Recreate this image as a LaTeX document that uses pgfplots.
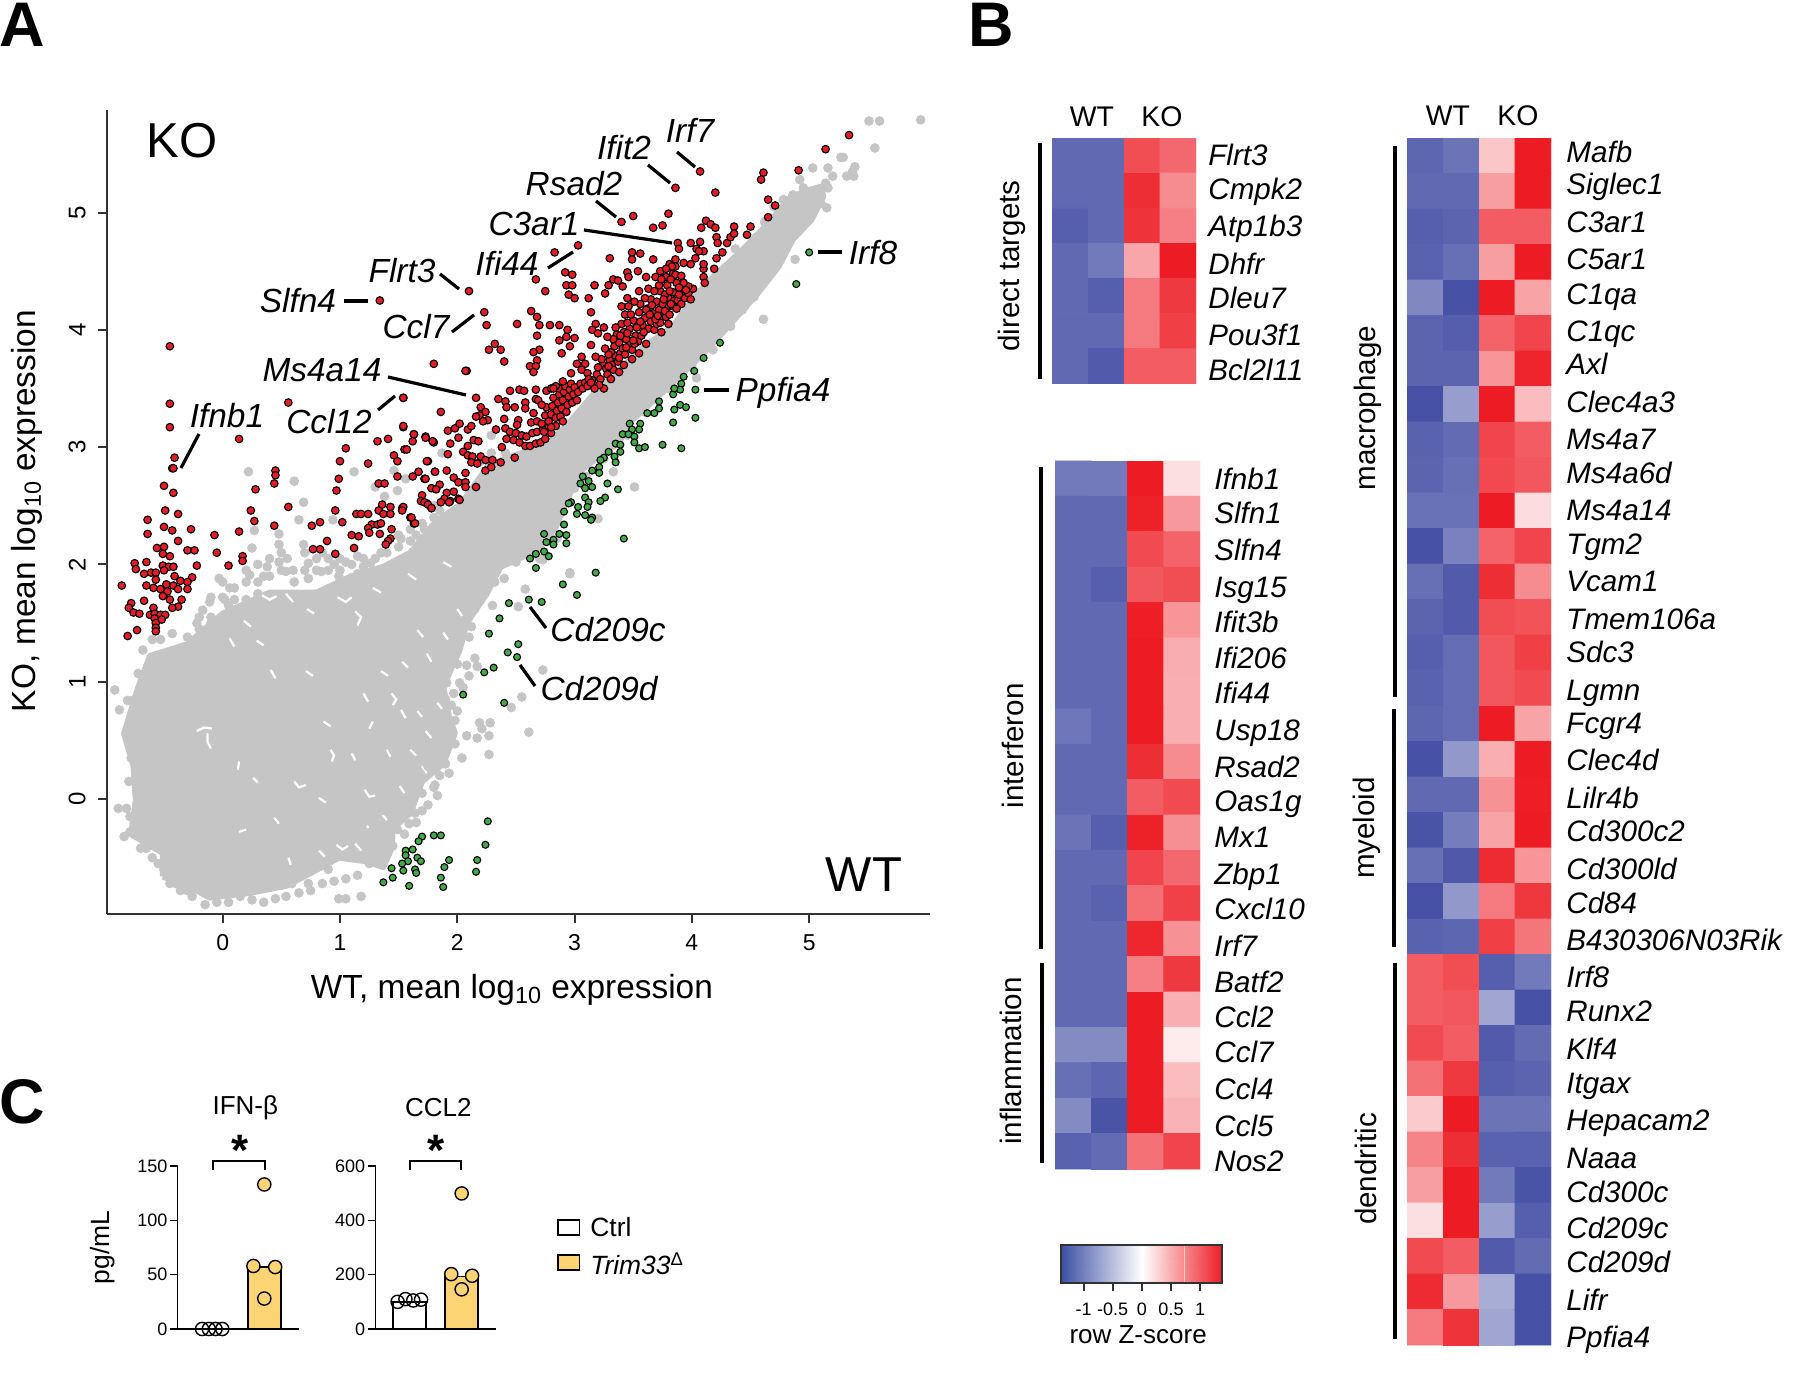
\documentclass[border=0pt]{standalone}
\usepackage{fontspec}
\setmainfont{Liberation Sans}
\usepackage{pgfplots}
\pgfplotsset{compat=1.18}

\definecolor{cloud}{RGB}{197,197,197}
\definecolor{upred}{RGB}{232,28,36}
\definecolor{downgreen}{RGB}{66,172,70}
\definecolor{barorange}{RGB}{253,212,116}
\definecolor{axisgray}{RGB}{50,50,50}
\pgfplotsset{colormap={zscore}{rgb255=(60,80,165) rgb255=(255,255,255) rgb255=(237,28,36)}}
\pgfplotsset{colormap={cells}{rgb255=(70,80,165) rgb255=(255,255,255) rgb255=(237,28,36)}}
\pgfplotsset{
  heat/.style={scale only axis,hide axis,enlargelimits=false,colormap name=cells,
    point meta min=-1.28,point meta max=1.28,y dir=reverse,xmin=-0.5,xmax=3.5},
  bars/.style={scale only axis,axis lines=left,axis line style={-,line width=0.75pt},
    width=60.4pt,height=81.5pt,clip=false,xtick=\empty,ymin=0,
    tick align=outside,major tick length=4pt,tick style={line width=0.75pt,black},
    /pgf/number format/assume math mode=true,
    yticklabel style={font=\fontsize{9}{10}\selectfont,inner sep=1pt}},
}
\newcommand{\gf}{\fontsize{14.8}{16}\selectfont}
\newcommand{\lf}{\fontsize{16.7}{18}\selectfont}

\begin{document}
\begin{tikzpicture}
\useasboundingbox (0,0) rectangle (900pt,688pt);

% panel A
\begin{axis}[name=scatter,at={(53.5pt,231pt)},anchor=south west,scale only axis,
  width=411.5pt,height=402pt,clip=false,
  xmin=-0.986,xmax=6.03,ymin=-0.98,ymax=5.874,
  axis lines=left,axis line style={-,line width=1pt,axisgray},
  xtick={0,1,2,3,4,5},ytick={0,1,2,3,4,5},
  tick align=outside,major tick length=4.5pt,tick style={line width=1pt,axisgray},
  /pgf/number format/assume math mode=true,
  xticklabel style={font=\fontsize{11.5}{12}\selectfont,inner sep=0pt,yshift=-5.5pt},
  yticklabel style={font=\fontsize{12}{12}\selectfont,rotate=90,anchor=south,inner sep=0pt,yshift=6pt},
  xlabel={WT, mean log\textsubscript{10} expression},
  ylabel={KO, mean log\textsubscript{10} expression},
  xlabel style={font=\lf,at={(rel axis cs:0.492,-0.094)},anchor=center},
  ylabel style={font=\lf,at={(rel axis cs:-0.0972,0.501)},anchor=center},
]
% main cloud outline
\addplot[fill=cloud,draw=cloud,line width=3pt,line join=round] coordinates {
(-0.51,-0.66) (-0.22,-0.78) (-0.11,-0.84) (0.23,-0.80) (0.54,-0.74) (0.77,-0.62) (0.99,-0.50)
(1.22,-0.53) (1.37,-0.58) (1.44,-0.42) (1.45,-0.25) (1.60,-0.12) (1.70,0.15) (1.88,0.30) (1.98,0.56)
(1.93,0.70) (1.88,0.96) (2.02,1.27) (2.08,1.50) (2.25,1.75) (2.37,1.98) (2.68,2.12) (2.84,2.32)
(2.94,2.55) (3.03,2.78) (3.13,2.86) (3.37,3.03) (3.49,3.23) (3.71,3.43) (3.89,3.60) (4.10,3.80)
(4.31,4.03) (4.56,4.31) (4.74,4.54) (4.86,4.77) (5.02,4.94) (5.12,5.14) (5.10,5.22) (4.96,5.18)
(4.83,5.12) (4.68,4.94) (4.53,4.78) (4.41,4.66) (4.19,4.46) (4.04,4.30) (3.83,4.02) (3.58,3.85)
(3.34,3.62) (3.16,3.45) (2.94,3.19) (2.76,3.02) (2.52,2.94) (2.27,2.85) (2.03,2.51) (1.82,2.37)
(1.60,2.10) (1.37,1.98) (1.10,1.90) (0.80,1.76) (0.40,1.76) (0.00,1.58) (-0.30,1.32) (-0.62,1.22)
(-0.72,0.95) (-0.77,0.79) (-0.84,0.56) (-0.76,0.28) (-0.74,-0.01) (-0.78,-0.30) (-0.51,-0.46) (-0.51,-0.66)};
% gray points on the edges of the cloud
\addplot[only marks,mark=*,mark size=2.2pt,mark options={draw=cloud,fill=cloud}] coordinates {
(-0.92,0.93) (-0.88,0.76) (-0.81,0.84) (-0.77,0.84) (-0.89,-0.08) (-0.82,-0.08) (-0.84,-0.32) (-0.79,-0.28)
(2.61,0.57) (2.27,0.38) (2.27,0.54) (2.28,0.65) (2.19,0.65) (2.21,0.60) (2.08,0.54) (2.17,0.52) (1.98,0.47)
(2.04,0.35) (1.91,0.67) (1.98,0.67) (1.83,0.03) (1.81,0.12) (1.93,0.22) (2.73,1.10) (2.55,0.87) (2.46,0.78)
(1.91,0.99) (2.02,0.99) (2.17,1.13) (2.08,1.14) (2.52,1.64) (2.58,1.79) (2.96,1.93) (1.64,-0.12) (1.59,-0.21)
(1.49,-0.26) (1.38,-0.26) (1.45,-0.09) (1.28,-0.26) (0.99,-0.85) (1.05,-0.85) (1.18,-0.83) (0.54,-0.83)
(0.73,-0.72) (0.59,-0.72) (-0.36,-0.78) (-0.26,-0.83) (-0.15,-0.90) (0.25,-0.86) (0.15,-0.83) (-0.45,-0.72)
(0.48,2.17) (0.25,2.14) (0.73,2.01) (0.69,2.17) (0.94,2.38) (0.65,2.38) (0.48,2.26) (0.27,2.29) (0.69,2.53)
(1.15,2.07) (0.22,2.79) (0.61,2.71) (1.12,2.79) (1.46,2.80) (1.87,2.95) (2.29,3.10) (1.38,2.58) (1.49,2.63)
(1.30,2.66) (1.56,2.73) (2.41,2.95) (2.29,2.95) (2.20,2.88) (5.95,5.79) (5.51,5.78) (5.60,5.78) (5.56,5.55)
(5.27,5.47) (5.29,5.47) (5.39,5.39) (5.32,5.31) (5.38,5.31) (5.37,5.35) (5.03,5.38) (5.16,5.38) (5.20,5.31) (5.14,5.25)
(4.88,4.60) (4.61,4.09) (4.18,3.83) (4.04,3.59) (3.51,2.66) (3.33,2.79) (2.96,1.92) (3.20,2.39) (2.73,2.04)
(4.95,5.21) (4.86,5.15) (4.78,5.11) (5.16,5.21) (5.10,5.08) (5.15,5.04) (4.95,5.01) (4.83,5.05) (4.69,4.89)
(4.55,4.79) (4.62,4.92) (4.37,4.69) (4.87,4.91) (5.06,5.11) (4.74,4.61) (4.65,4.45) (4.43,4.17) (4.33,4.03)
(4.53,4.28) (4.92,5.28) (5.00,5.18) (-0.17,1.61) (-0.11,1.68) (-0.03,1.88) (0.06,1.80) (0.12,1.61) (0.02,1.70)
(0.23,1.91) (0.38,1.98) (0.48,2.02) (0.54,1.94) (0.61,1.85) (0.73,1.88) (0.84,1.94) (0.99,1.90) (1.05,2.02)
(1.15,1.92) (1.26,2.01) (-0.68,1.27) (-0.60,1.36) (-0.43,1.41) (-0.30,1.38) (-0.22,1.50) (-0.72,1.07)
(-0.80,0.60) (-0.78,0.35) (-0.80,0.15) (-0.79,-0.15) (-0.65,-0.42) (-0.55,-0.55) (1.58,0.00) (1.70,0.05)
(1.75,0.28) (1.85,0.45) (1.80,0.68) (1.90,0.85) (2.00,1.15) (2.10,1.38) (2.15,1.62) (2.30,1.65) (2.40,1.88)
(1.25,-0.42) (1.10,-0.35) (1.20,-0.15) (1.35,-0.10) (0.90,-0.60) (0.60,-0.65) (1.35,2.10) (1.52,2.22) (1.65,2.25)
(1.85,2.46) (1.72,2.30) (0.40,1.90) (0.05,1.65) (-0.10,1.50) (0.85,2.10) (0.95,2.00)
(-0.53,1.36) (-0.20,1.45) (-0.20,1.55) (-0.10,1.55) (-0.10,1.72) (0.00,1.72) (0.00,1.85) (0.10,1.70) (0.10,1.80)
(0.20,1.95) (0.20,1.85) (0.20,1.70) (0.30,1.75) (0.30,1.85) (0.30,2.00) (0.35,1.90) (0.40,2.05) (0.50,1.95)
(0.50,2.10) (0.55,2.05) (0.60,1.95) (0.70,2.10) (0.70,1.95) (0.80,2.05) (0.80,1.95) (0.90,2.05) (0.90,1.95)
(1.00,2.05) (1.00,1.95) (1.10,2.00) (1.20,2.05) (1.20,1.98) (1.30,2.05) (1.40,2.10) (1.50,2.15) (1.50,2.25)
(1.60,2.20) (1.60,2.30) (1.70,2.35) (1.80,2.40) (1.80,2.50)
(1.95,0.80) (2.00,0.75) (1.97,0.90) (2.05,0.95) (2.10,1.05) (2.15,1.20) (2.12,1.47) (2.20,1.70) (2.32,1.85)
(1.90,0.30) (1.85,0.20) (1.80,0.10) (1.70,-0.10) (1.75,-0.05) (1.65,-0.20) (1.55,-0.30) (1.45,-0.40) (1.30,-0.45)
(1.35,-0.50) (1.25,-0.55) (1.15,-0.65) (1.05,-0.68) (0.95,-0.70) (0.85,-0.72) (0.75,-0.78) (0.65,-0.80) (0.35,-0.88)
(0.45,-0.85) (0.05,-0.88) (-0.05,-0.88) (-0.30,-0.78) (-0.40,-0.72) (-0.50,-0.60) (-0.60,-0.50) (-0.70,-0.42)
(3.00,2.65) (3.10,2.75) (3.25,2.90) (3.45,3.10) (3.60,3.30) (3.80,3.50) (4.00,3.70) (4.20,3.92) (4.45,4.20)
(4.60,4.40) (4.75,4.65) (4.90,4.85) (4.70,5.05) (2.85,2.22) (2.70,2.05) (2.50,2.02)};
% gaps in the cloud
\addplot[white,line width=1.1pt,unbounded coords=jump] coordinates {
(-.22,.58) (-.16,.61) (-.09,.60) (nan,nan) (-.13,.56) (-.13,.49) (-.10,.43) (nan,nan) (.14,.32) (.13,.25) (nan,nan)
(.26,.18) (.30,.14) (nan,nan) (.61,.15) (.65,.10) (.71,.12) (nan,nan) (.92,.42) (.95,.37) (.93,.32) (nan,nan)
(1.10,.39) (1.13,.33) (nan,nan) (1.28,.66) (1.25,.60) (nan,nan) (1.40,.42) (1.43,.36) (nan,nan)
(1.21,.08) (1.25,.02) (1.30,.03) (nan,nan) (.82,.01) (.88,-.03) (nan,nan) (.44,-.16) (.48,-.21) (nan,nan)
(.97,-.39) (1.02,-.43) (1.07,-.40) (nan,nan) (.14,-.28) (.20,-.26) (nan,nan) (.56,-.50) (.58,-.56) (nan,nan)
(1.70,.28) (1.74,.22) (nan,nan) (1.66,.75) (1.70,.70) (nan,nan) (1.44,.90) (1.48,.85) (1.45,.80) (nan,nan)
(.86,.66) (.92,.62) (nan,nan) (.29,1.35) (.35,1.31) (nan,nan) (.33,1.74) (.40,1.70) (.46,1.73) (nan,nan)
(.54,1.75) (.60,1.68) (nan,nan) (.06,1.37) (.10,1.30) (nan,nan) (1.13,1.60) (1.18,1.55) (1.15,1.48) (nan,nan)
(1.66,1.44) (1.71,1.38) (nan,nan) (1.74,1.24) (1.78,1.17) (nan,nan) (1.35,1.09) (1.41,1.05) (nan,nan)
(.41,1.10) (.45,1.03) (nan,nan) (.71,1.09) (.77,1.05) (nan,nan) (1.20,.90) (1.24,.83) (nan,nan)
(1.52,.76) (1.56,.69) (nan,nan) (1.73,.58) (1.78,.52) (nan,nan) (1.51,.11) (1.55,.05) (nan,nan)
(1.35,-.12) (1.40,-.18) (nan,nan) (1.13,-.38) (1.18,-.44) (nan,nan) (.82,-.44) (.87,-.49) (nan,nan)
(.98,1.72) (1.05,1.68) (1.10,1.72) (nan,nan) (.72,1.62) (.78,1.58) (nan,nan) (.18,1.52) (.24,1.47) (nan,nan)
(1.28,1.80) (1.35,1.76) (nan,nan) (1.58,1.92) (1.65,1.87) (nan,nan) (1.88,2.02) (1.95,1.98) (nan,nan)
(2.00,1.62) (2.04,1.56) (nan,nan) (1.88,1.42) (1.92,1.36) (nan,nan) (1.53,1.17) (1.58,1.12) (nan,nan)
(1.83,.82) (1.87,.77) (nan,nan) (1.60,.42) (1.65,.37) (nan,nan) (1.23,-.23) (1.28,-.28)};
% up in KO
\addplot[only marks,mark=*,mark size=1.9pt,mark options={draw=black,fill=upred,line width=0.55pt}] coordinates {
(5.34,5.66) (5.14,5.54) (4.91,5.36) (4.61,5.34) (4.59,5.28) (4.65,5.11) (4.71,5.06) (4.65,4.96) (4.07,5.35)
(4.20,5.17) (3.86,5.21) (3.80,4.99) (3.50,4.97) (3.40,4.92) (3.75,4.89) (3.67,4.87) (4.12,4.93) (4.08,4.87)
(4.16,4.90) (4.20,4.87) (4.21,4.79) (4.22,4.74) (4.30,4.74) (4.33,4.79) (4.36,4.88) (4.36,4.82) (4.50,4.88)
(4.47,4.81) (4.26,4.66) (4.21,4.61) (4.19,4.52) (4.10,4.52) (4.10,4.45) (4.11,4.40) (3.88,4.74) (3.89,4.69)
(3.99,4.74) (4.07,4.75) (4.04,4.69) (4.10,4.67) (4.06,4.67) (4.03,4.61) (3.99,4.56) (4.10,4.56) (3.03,4.72)
(2.83,4.66) (3.49,4.66) (3.56,4.65) (3.49,4.60) (3.67,4.60) (3.30,4.61) (2.67,4.43) (2.75,4.33) (2.92,4.49)
(2.98,4.47) (2.93,4.38) (2.98,4.38) (2.95,4.30) (3.00,4.27) (3.12,4.27) (3.17,4.38) (3.26,4.31) (3.29,4.38)
(3.33,4.43) (3.37,4.42) (3.41,4.37) (3.45,4.49) (3.54,4.50) (3.46,4.45) (3.61,4.45) (3.73,4.50) (3.69,4.45)
(3.78,4.45) (3.84,4.48) (3.86,4.60) (3.81,4.56) (3.86,4.54) (3.93,4.57)
(3.15,3.57) (3.19,3.62) (3.22,3.58) (3.24,3.70) (3.27,3.67) (3.28,3.62) (3.30,3.74) (3.32,3.70) (3.33,3.66)
(3.35,3.78) (3.37,3.73) (3.39,3.80) (3.31,3.81) (3.34,3.86) (3.38,3.89) (3.41,3.84) (3.43,3.79) (3.44,3.92)
(3.47,3.87) (3.49,3.83) (3.36,3.96) (3.42,3.98) (3.47,4.01) (3.52,3.95) (3.54,3.90) (3.57,3.95) (3.58,4.04)
(3.50,4.08) (3.43,4.13) (3.40,4.20) (3.46,4.20) (3.48,4.13) (3.55,4.15) (3.60,4.10) (3.63,4.01) (3.65,4.07)
(3.68,4.00) (3.70,4.05) (3.73,4.06) (3.56,4.22) (3.62,4.18) (3.67,4.14) (3.72,4.17) (3.74,4.12) (3.78,4.11)
(3.65,4.26) (3.70,4.24) (3.78,4.19) (3.80,4.27) (3.84,4.20) (3.85,4.25) (3.88,4.25) (3.91,4.22) (3.73,4.33)
(3.77,4.30) (3.72,4.38) (3.79,4.38) (3.84,4.32) (3.90,4.33) (3.94,4.27) (3.97,4.31) (4.01,4.35) (3.97,4.37)
(3.93,4.40) (3.87,4.40) (3.86,4.47) (3.91,4.46) (3.83,4.54) (3.63,4.35) (3.68,4.33) (3.78,4.52) (3.99,4.26)
(3.25,3.50) (3.31,3.58) (3.38,3.64) (3.42,3.70) (3.49,3.75) (3.55,3.80) (3.61,3.88) (3.74,3.98) (3.80,4.05)
(3.20,3.68) (3.23,3.75) (3.29,3.79) (3.33,3.92) (3.39,3.95) (3.45,3.97) (3.51,3.88) (3.53,4.02) (3.56,4.07)
(3.59,3.98) (3.61,4.17) (3.64,4.13) (3.66,4.21) (3.69,4.09) (3.71,4.12) (3.75,4.22) (3.77,4.16) (3.81,4.13)
(3.82,4.22) (3.87,4.18) (3.89,4.30) (3.76,4.26) (3.81,4.33) (3.74,4.43) (3.82,4.43) (3.89,4.36) (3.95,4.34)
(3.40,4.05) (3.35,4.02) (3.45,4.06) (3.38,3.76) (3.44,3.85) (3.50,3.91) (3.29,3.69) (3.21,3.53) (3.17,3.50)
(3.45,4.27) (3.51,4.24) (3.55,4.33) (3.60,4.27)
(2.63,4.16) (2.68,4.11) (2.70,4.04) (2.79,4.04) (2.87,4.04) (2.51,4.05) (2.25,4.04) (2.23,4.15) (2.10,4.33)
(2.68,3.95) (2.94,4.00) (2.93,3.94) (2.87,3.91) (3.00,3.93) (2.96,3.86) (2.89,3.80) (2.70,3.83) (2.65,3.81)
(2.68,3.74) (2.62,3.69) (2.67,3.69) (2.65,3.64) (2.27,3.83) (2.32,3.88) (2.37,3.83) (2.40,3.73) (1.80,3.71)
(2.08,3.65) (2.16,3.42) (2.97,3.63) (3.14,4.15) (3.14,3.87) (3.18,4.05) (3.15,4.00) (3.25,4.02) (3.20,3.97)
(3.28,3.94) (3.18,3.77) (3.26,3.84) (3.06,3.77) (3.02,3.71) (3.09,3.71) (3.06,3.66) (3.11,3.63) (2.45,3.48)
(2.53,3.49) (2.57,3.48) (2.67,3.49) (2.67,3.41) (2.35,3.41) (2.41,3.39) (2.42,3.34) (2.49,3.34) (2.58,3.38)
(2.58,3.33) (2.65,3.29) (1.86,3.30) (2.20,3.34) (2.24,3.30) (2.19,3.27) (2.26,3.23) (2.22,3.22) (2.16,3.26)
(2.40,3.24) (2.33,3.15) (2.52,3.23) (2.51,3.19) (2.63,3.21) (2.68,3.22) (2.49,2.91) (2.38,3.00)
(2.41,3.16) (2.45,3.13) (2.50,3.12) (2.55,3.10) (2.59,3.09) (2.64,3.12) (2.68,3.13) (2.73,3.15) (2.78,3.17)
(2.42,3.07) (2.48,3.06) (2.53,3.04) (2.58,3.01) (2.62,3.01) (2.67,3.03) (2.71,3.04) (2.75,3.07) (2.80,3.12)
(2.72,3.20) (2.75,3.27) (2.76,3.34) (2.78,3.22) (2.80,3.28) (2.81,3.35) (2.82,3.42) (2.84,3.25) (2.85,3.31)
(2.86,3.38) (2.87,3.45) (2.87,3.50) (2.88,3.26) (2.89,3.33) (2.90,3.40) (2.91,3.47) (2.92,3.52) (2.93,3.30)
(2.94,3.36) (2.95,3.43) (2.96,3.49) (2.97,3.54) (2.98,3.38) (2.99,3.45) (3.00,3.51) (3.02,3.40) (3.03,3.47)
(3.05,3.54) (3.07,3.50) (3.09,3.55) (3.11,3.52) (3.12,3.58) (2.84,3.18) (2.90,3.22) (2.69,3.40) (2.72,3.36)
(2.76,3.48) (2.80,3.50) (2.84,3.52) (3.14,3.55) (2.74,3.13) (2.80,3.17) (2.90,3.56) (2.82,3.50)
(2.14,3.06) (2.18,3.05) (2.09,3.01) (2.05,2.96) (2.09,2.93) (2.13,2.92) (2.20,2.92) (2.24,2.89) (2.30,2.89)
(2.37,2.87) (2.12,2.87) (2.17,2.86) (2.24,2.80) (2.29,2.83) (1.91,2.80) (1.75,2.88) (1.81,2.79) (1.92,2.94)
(1.98,3.16) (1.92,3.14) (2.09,3.15) (2.01,3.08) (1.94,3.03) (2.12,3.18) (2.02,3.20) (1.63,3.11) (1.73,3.09)
(1.80,3.04) (1.62,3.05) (1.55,2.98) (1.54,3.17) (1.54,3.42) (1.62,2.75) (1.72,2.73) (1.97,2.74) (2.01,2.70)
(2.07,2.78) (2.07,2.70) (2.07,2.66) (2.16,2.66) (1.85,2.68) (1.78,2.65) (1.82,2.64) (1.91,2.61) (1.97,2.62)
(2.01,2.56) (1.89,2.56) (1.94,2.54) (1.70,2.59) (1.69,2.54) (1.74,2.52) (1.78,2.48) (1.53,2.48) (1.60,2.40) (1.63,2.35)
(-0.49,2.46) (-0.38,2.43) (-0.64,2.38) (-0.50,2.32) (-0.43,2.29) (-0.27,2.30) (-0.64,2.26) (-0.38,2.20)
(-0.56,2.14) (-0.50,2.15) (-0.51,2.09) (-0.30,2.12) (-0.24,2.12) (-0.45,2.07) (-0.75,2.01) (-0.65,2.02)
(-0.22,1.99) (-0.74,1.96) (-0.51,1.99) (-0.46,1.98) (-0.42,1.98) (-0.67,1.92) (-0.61,1.93) (-0.57,1.93)
(-0.50,1.95) (-0.41,1.90) (-0.26,1.89) (-0.57,1.87) (-0.36,1.86) (-0.30,1.85) (-0.48,1.83) (-0.42,1.82)
(-0.86,1.82) (-0.65,1.82) (-0.59,1.80) (-0.38,1.79) (-0.30,1.79) (-0.53,1.79) (-0.47,1.77) (-0.51,1.73)
(-0.45,1.70) (-0.35,1.70) (-0.67,1.69) (-0.78,1.67) (-0.80,1.63) (-0.38,1.64) (-0.43,1.63) (-0.59,1.63)
(-0.76,1.59) (-0.71,1.58) (-0.62,1.57) (-0.58,1.58) (-0.53,1.57) (-0.49,1.57) (-0.58,1.54) (-0.52,1.53)
(-0.57,1.50) (-0.57,1.46) (-0.57,1.43) (-0.73,1.44) (-0.81,1.39)
(-0.07,2.25) (0.14,2.28) (0.24,2.46) (0.27,2.37) (0.56,2.49) (0.44,2.33) (-0.05,2.10) (0.05,1.99) (0.17,2.07)
(0.17,2.03) (0.96,2.46) (0.83,2.36) (0.76,2.33) (1.02,2.36) (1.14,2.43) (1.18,2.43) (1.24,2.43) (1.33,2.46)
(1.36,2.51) (1.43,2.49) (1.37,2.43) (1.43,2.43) (1.54,2.49) (1.53,2.46) (1.27,2.34) (1.32,2.34) (1.35,2.35)
(1.24,2.31) (1.44,2.30) (1.25,2.27) (1.34,2.26) (1.10,2.25) (1.16,2.24) (1.43,2.22) (1.41,2.20) (1.39,2.17)
(1.12,2.14) (0.89,2.20) (0.83,2.13) (0.77,2.13) (0.96,2.09) (1.61,2.40) (1.64,2.35) (1.72,2.53) (1.75,2.51)
(1.78,2.48) (1.86,2.53) (1.93,2.53) (2.02,2.55)
(-0.45,3.86) (-0.45,3.37) (-0.45,3.17) (-0.41,2.91) (-0.43,2.82) (-0.42,2.82) (-0.50,2.67) (-0.42,2.61)
(0.14,3.07) (0.45,2.80) (0.45,2.76) (0.44,2.69) (0.28,2.64) (0.56,3.38) (0.97,2.63) (0.99,2.73) (1.00,2.88)
(1.05,2.99) (1.24,2.86) (1.32,3.05) (1.41,3.07) (1.33,2.69) (1.38,2.69) (1.54,3.42) (1.54,3.18) (1.63,3.11)
(1.57,2.98) (1.46,2.93) (1.49,2.88) (1.73,3.08) (1.79,3.05) (1.74,2.88) (1.49,2.75) (1.67,2.79) (1.73,2.73)
(1.81,2.79) (2.07,3.65) (1.34,4.25)};
% down in KO
\addplot[only marks,mark=*,mark size=1.75pt,mark options={draw=black,fill=downgreen,line width=0.55pt}] coordinates {
(5.00,4.66) (4.89,4.39) (4.24,3.89) (4.10,3.76) (4.02,3.65) (3.93,3.60) (3.91,3.54) (3.90,3.49) (3.84,3.45)
(3.85,3.50) (4.03,3.49) (3.72,3.39) (3.72,3.33) (3.68,3.29) (3.62,3.29) (3.85,3.32) (3.90,3.36) (3.95,3.34)
(3.84,3.21) (4.03,3.25) (3.56,3.20) (3.47,3.20) (3.49,3.15) (3.55,3.15) (3.41,3.11) (3.46,3.11) (3.51,3.09)
(3.51,3.04) (3.55,2.99) (3.60,3.00) (3.75,3.02) (3.91,2.99) (3.35,3.03) (3.39,3.02) (3.29,2.96) (3.39,2.96)
(3.25,2.91) (3.34,2.92) (3.35,2.87) (3.22,2.89) (3.21,2.83) (3.15,2.80) (3.21,2.78) (3.07,2.75) (3.12,2.71)
(3.05,2.69) (3.28,2.69) (3.37,2.64) (3.09,2.65) (3.15,2.66) (3.26,2.57) (3.22,2.54) (3.09,2.57) (3.12,2.53)
(2.97,2.53) (3.03,2.49) (3.11,2.49) (2.95,2.52) (2.91,2.45) (3.02,2.43) (3.09,2.42) (3.15,2.40) (3.14,2.38)
(2.91,2.34) (2.74,2.26) (2.87,2.26) (2.93,2.25) (2.76,2.19) (2.82,2.21) (2.82,2.17) (2.93,2.18) (3.42,2.22)
(2.74,2.11) (2.67,2.09) (2.62,2.05) (2.78,2.07) (2.67,1.97) (3.18,1.93)
(2.90,1.83) (3.02,1.74) (2.61,1.70) (2.72,1.68) (2.44,1.67) (2.36,1.54) (2.27,1.41) (2.52,1.32) (2.43,1.25)
(2.51,1.21) (2.31,1.12) (2.23,1.08) (2.05,0.89) (2.40,0.82) (2.26,-0.19) (1.80,-0.31) (1.86,-0.31) (1.70,-0.32)
(1.67,-0.36) (2.24,-0.39) (1.62,-0.43) (1.56,-0.44) (1.56,-0.48) (1.66,-0.50) (1.69,-0.53) (1.58,-0.53)
(1.53,-0.55) (2.17,-0.52) (1.93,-0.52) (1.89,-0.58) (1.44,-0.59) (1.54,-0.61) (1.64,-0.60) (1.65,-0.63)
(2.16,-0.62) (1.86,-0.67) (1.45,-0.67) (1.37,-0.71) (1.59,-0.74) (1.88,-0.75)};
\end{axis}

% panel B, heatmaps (columns WT WT KO KO, rows top to bottom)
\begin{axis}[heat,at={(526pt,496pt)},anchor=south west,width=72pt,height=123pt,ymin=-0.5,ymax=6.5]
\addplot[matrix plot*,mesh/cols=4,point meta=explicit] coordinates {
(0,0)[-1.1] (1,0)[-1.1] (2,0)[1.0] (3,0)[.85]
(0,1)[-1.1] (1,1)[-1.1] (2,1)[1.18] (3,1)[.65]
(0,2)[-1.17] (1,2)[-1.1] (2,2)[1.15] (3,2)[.72]
(0,3)[-1.1] (1,3)[-.97] (2,3)[.5] (3,3)[1.38]
(0,4)[-1.1] (1,4)[-1.17] (2,4)[.75] (3,4)[1.12]
(0,5)[-1.1] (1,5)[-1.1] (2,5)[.75] (3,5)[1.08]
(0,6)[-1.1] (1,6)[-1.2] (2,6)[.92] (3,6)[.92]};
\end{axis}
\begin{axis}[heat,at={(527.5pt,103.5pt)},anchor=south west,width=72.5pt,height=354pt,ymin=-0.5,ymax=19.5]
\addplot[matrix plot*,mesh/cols=4,point meta=explicit] coordinates {
(0,0)[-.97] (1,0)[-.97] (2,0)[1.38] (3,0)[.18]
(0,1)[-1.1] (1,1)[-1.1] (2,1)[1.25] (3,1)[.58]
(0,2)[-1.1] (1,2)[-1.1] (2,2)[1.02] (3,2)[.88]
(0,3)[-1.1] (1,3)[-1.17] (2,3)[.95] (3,3)[1.0]
(0,4)[-1.1] (1,4)[-1.1] (2,4)[1.27] (3,4)[.6]
(0,5)[-1.1] (1,5)[-1.1] (2,5)[1.3] (3,5)[.47]
(0,6)[-1.1] (1,6)[-1.1] (2,6)[1.36] (3,6)[.45]
(0,7)[-1.0] (1,7)[-1.1] (2,7)[1.32] (3,7)[.45]
(0,8)[-1.1] (1,8)[-1.1] (2,8)[1.18] (3,8)[.65]
(0,9)[-1.1] (1,9)[-1.1] (2,9)[.92] (3,9)[1.02]
(0,10)[-1.02] (1,10)[-1.17] (2,10)[1.25] (3,10)[.63]
(0,11)[-1.1] (1,11)[-1.1] (2,11)[1.05] (3,11)[.85]
(0,12)[-1.1] (1,12)[-1.15] (2,12)[.82] (3,12)[1.07]
(0,13)[-1.1] (1,13)[-1.1] (2,13)[1.22] (3,13)[.62]
(0,14)[-1.1] (1,14)[-1.1] (2,14)[.72] (3,14)[1.12]
(0,15)[-1.1] (1,15)[-1.1] (2,15)[1.3] (3,15)[.45]
(0,16)[-.85] (1,16)[-.85] (2,16)[1.38] (3,16)[.12]
(0,17)[-1.05] (1,17)[-1.12] (2,17)[1.35] (3,17)[.38]
(0,18)[-.85] (1,18)[-1.25] (2,18)[1.32] (3,18)[.43]
(0,19)[-1.15] (1,19)[-1.08] (2,19)[.8] (3,19)[1.05]};
\end{axis}
\begin{axis}[heat,at={(703.5pt,15.5pt)},anchor=south west,width=72pt,height=603.5pt,ymin=-0.5,ymax=33.5]
\addplot[matrix plot*,mesh/cols=4,point meta=explicit] coordinates {
(0,0)[-1.12] (1,0)[-1.02] (2,0)[.32] (3,0)[1.32]
(0,1)[-1.1] (1,1)[-1.1] (2,1)[.55] (3,1)[1.3]
(0,2)[-1.17] (1,2)[-1.13] (2,2)[.92] (3,2)[.92]
(0,3)[-1.15] (1,3)[-1.05] (2,3)[.55] (3,3)[1.3]
(0,4)[-.88] (1,4)[-1.27] (2,4)[1.3] (3,4)[.52]
(0,5)[-1.13] (1,5)[-1.18] (2,5)[.88] (3,5)[1.05]
(0,6)[-1.13] (1,6)[-1.13] (2,6)[.6] (3,6)[1.23]
(0,7)[-1.28] (1,7)[-.72] (2,7)[1.38] (3,7)[.38]
(0,8)[-1.15] (1,8)[-1.08] (2,8)[1.05] (3,8)[.92]
(0,9)[-1.13] (1,9)[-1.05] (2,9)[1.03] (3,9)[.95]
(0,10)[-1.03] (1,10)[-1.03] (2,10)[1.38] (3,10)[.2]
(0,11)[-1.27] (1,11)[-.92] (2,11)[.88] (3,11)[1.05]
(0,12)[-1.05] (1,12)[-1.2] (2,12)[1.18] (3,12)[.65]
(0,13)[-1.13] (1,13)[-1.2] (2,13)[1.0] (3,13)[.97]
(0,14)[-1.17] (1,14)[-1.07] (2,14)[.95] (3,14)[1.08]
(0,15)[-1.15] (1,15)[-1.07] (2,15)[.95] (3,15)[1.02]
(0,16)[-1.12] (1,16)[-1.07] (2,16)[1.28] (3,16)[.52]
(0,17)[-1.27] (1,17)[-.75] (2,17)[.45] (3,17)[1.32]
(0,18)[-1.1] (1,18)[-1.1] (2,18)[.62] (3,18)[1.27]
(0,19)[-1.25] (1,19)[-.95] (2,19)[.52] (3,19)[1.32]
(0,20)[-1.05] (1,20)[-1.22] (2,20)[1.2] (3,20)[.6]
(0,21)[-1.3] (1,21)[-.75] (2,21)[.75] (3,21)[1.13]
(0,22)[-1.15] (1,22)[-1.12] (2,22)[1.08] (3,22)[.78]
(0,23)[.92] (1,23)[1.0] (2,23)[-1.17] (3,23)[-.97]
(0,24)[.92] (1,24)[.95] (2,24)[-.65] (3,24)[-1.3]
(0,25)[1.02] (1,25)[.92] (2,25)[-1.2] (3,25)[-1.08]
(0,26)[.8] (1,26)[1.12] (2,26)[-1.17] (3,26)[-1.13]
(0,27)[.3] (1,27)[1.32] (2,27)[-1.02] (3,27)[-1.02]
(0,28)[.7] (1,28)[1.18] (2,28)[-1.15] (3,28)[-1.15]
(0,29)[.55] (1,29)[1.28] (2,29)[-.97] (3,29)[-1.25]
(0,30)[.18] (1,30)[1.38] (2,30)[-.72] (3,30)[-1.17]
(0,31)[1.02] (1,31)[.92] (2,31)[-1.2] (3,31)[-1.08]
(0,32)[1.2] (1,32)[.58] (2,32)[-.6] (3,32)[-1.38]
(0,33)[.75] (1,33)[1.15] (2,33)[-.65] (3,33)[-1.35]};
\end{axis}

% colour key
\begin{axis}[at={(530.5pt,46.5pt)},anchor=south west,scale only axis,width=80.5pt,height=19pt,
  enlargelimits=false,xmin=-1.387,xmax=1.375,ymin=0,ymax=1,colormap name=zscore,
  point meta min=-1.38,point meta max=1.38,
  axis line style={line width=0.6pt,axisgray},axis on top,
  ytick=\empty,xtick={-1,-0.5,0,0.5,1},xticklabels={-1,-0.5,0,0.5,1},
  xtick pos=bottom,tick align=outside,major tick length=4pt,tick style={line width=1pt,axisgray},
  xticklabel style={font=\fontsize{9}{10}\selectfont,inner sep=1pt,yshift=-5pt},
  xlabel={row Z-score},xlabel style={font=\fontsize{13}{14}\selectfont,at={(rel axis cs:0.479,-1.36)},anchor=center},
  view={0}{90}]
\addplot[surf,shader=interp,mesh/rows=2,point meta=x] coordinates {
(-1.387,0) (0,0) (1.375,0) (-1.387,1) (0,1) (1.375,1)};
\addplot[line width=0.5pt,color=red!20!white] coordinates {(0.73,0) (0.73,1)};
\end{axis}

% panel C
\begin{axis}[bars,name=ifn,at={(88.85pt,23.5pt)},anchor=south west,xmin=0.33,xmax=2.66,ymax=150,ytick={0,50,100,150},
  ylabel={pg/mL},ylabel style={font=\fontsize{13.2}{14}\selectfont,at={(rel axis cs:-0.62,0.50)},anchor=center},
  title={IFN-β},title style={font=\fontsize{13}{14}\selectfont,at={(rel axis cs:0.56,1.285)},anchor=center}]
\addplot[ybar,bar width=16.5pt,bar shift=0pt,draw=black,line width=0.75pt,fill=barorange] coordinates {(2,57)};
\addplot[only marks,mark=o,mark size=3.3pt,mark options={line width=0.7pt,black}] coordinates {(0.80,0) (0.93,0) (1.06,0) (1.19,0)};
\addplot[only marks,mark=*,mark size=3.3pt,mark options={draw=black,line width=0.7pt,fill=barorange}] coordinates {(1.79,58) (2.21,57) (2,28) (2,133)};
\end{axis}
\begin{axis}[bars,name=ccl,at={(187.8pt,23.5pt)},anchor=south west,xmin=0.347,xmax=2.667,ymax=600,ytick={0,200,400,600},
  title={CCL2},title style={font=\fontsize{13}{14}\selectfont,at={(rel axis cs:0.52,1.285)},anchor=center}]
\addplot[ybar,bar width=16.5pt,bar shift=0pt,draw=black,line width=0.75pt,fill=white] coordinates {(1,100)};
\addplot[ybar,bar width=16.5pt,bar shift=0pt,draw=black,line width=0.75pt,fill=barorange] coordinates {(2,193)};
\addplot[only marks,mark=o,mark size=3.3pt,mark options={line width=0.7pt,black}] coordinates {(0.77,100) (0.92,110) (1.07,105) (1.22,108)};
\addplot[only marks,mark=*,mark size=3.3pt,mark options={draw=black,line width=0.7pt,fill=barorange}] coordinates {(1.80,202) (2.20,196) (2,146) (2,499)};
\end{axis}

% text and lines in reference pixels, y running down
\begin{scope}[shift={(0,688pt)},x=0.5pt,y=-0.5pt,every node/.style={inner sep=0pt}]
\node[font=\fontsize{31.5}{32}\selectfont\bfseries] at (22,25) {A};
\node[font=\fontsize{31.5}{32}\selectfont\bfseries] at (991,25) {B};
\node[font=\fontsize{31.5}{32}\selectfont\bfseries] at (22,1102) {C};
\node[font=\fontsize{24.5}{26}\selectfont] at (182,141) {KO};
\node[font=\fontsize{24.5}{26}\selectfont] at (864,875) {WT};
% callouts
\foreach \xa/\ya/\xb/\yb in {344/301/368/301,440/274/459/289,452/332/474/315,388/377/466/395,378/410/395/396,
  181/468/199/434,548/268/573/252,584/230/672/243,596/201/616/217,648/165/670/183,677/152/695/167,
  818/252/842/252,704/390/729/390,530/607/546/628,520/665/535/686}
  \draw[line width=1.6pt] (\xa,\ya) -- (\xb,\yb);
\foreach \x/\y/\t in {690/130/Irf7,624/148/Ifit2,574/184/Rsad2,534/224/C3ar1,507/263/Ifi44,402/271/Flrt3,
  298/301/Slfn4,416/327/Ccl7,322/370/Ms4a14,329/422/Ccl12,227/416/Ifnb1,873/253/Irf8,783/393/Ppfia4,
  608/630/Cd209c,599/689/Cd209d}
  \node[font=\lf\itshape] at (\x,\y) {\t};
% heatmap headers and groups
\foreach \x/\y/\t in {1092/117/WT,1162/117/KO,1448/116/WT,1518/116/KO}
  \node[font=\fontsize{14.2}{16}\selectfont] at (\x,\y) {\t};
\foreach \x/\ya/\yb in {1040/143/379,1041/467/949,1041.5/963/1163,1395/146/697,1394/709/947,1395/963/1339}
  \draw[line width=2pt] (\x,\ya) -- (\x,\yb);
\foreach \x/\y/\t in {1012/266/direct targets,1013/746/interferon,1011/1061/inflammation,1368/408/macrophage,1367/828/myeloid,1366/1169/dendritic}
  \node[font=\gf,rotate=90] at (\x,\y) {\t};
\foreach \y/\t in {135/Flrt3,165/Cmpk2,197/Atp1b3,230/Dhfr,260/Dleu7,292/Pou3f1,322/Bcl2l11}
  \node[font=\gf\itshape,anchor=base west] at (1208,{\y*1.148+10.5}) {\t};
\foreach \y/\t in {417/Ifnb1,447/Slfn1,479/Slfn4,511/Isg15,542/Ifit3b,573/Ifi206,604/Ifi44,636/Usp18,668/Rsad2,698/Oas1g,
  729/Mx1,761/Zbp1,792/Cxcl10,824/Irf7,855/Batf2,886/Ccl2,916/Ccl7,949/Ccl4,981/Ccl5,1011/Nos2}
  \node[font=\gf\itshape,anchor=base west] at (1214,{\y*1.148+10.5}) {\t};
\foreach \y/\t in {132/Mafb,160/Siglec1,193/C3ar1,226/C5ar1,256/C1qa,288/C1qc,317/Axl,350/Clec4a3,382/Ms4a7,412/Ms4a6d,
  444/Ms4a14,474/Tgm2,506/Vcam1,539/Tmem106a,568/Sdc3,601/Lgmn,630/Fcgr4,662/Clec4d,695/Lilr4b,724/Cd300c2,757/Cd300ld,
  787/Cd84,819/B430306N03Rik,851/Irf8,881/Runx2,914/Klf4,943/Itgax,976/Hepacam2,1009/Naaa,1038/Cd300c,1070/Cd209c,
  1099/Cd209d,1132/Lifr,1165/Ppfia4}
  \node[font=\gf\itshape,anchor=base west] at (1566,{\y*1.148+10.5}) {\t};
% brackets, stars and legend of panel C
\draw[line width=1pt] (212.6,1170) -- (212.6,1161) -- (264.5,1161) -- (264.5,1170);
\draw[line width=1pt] (409.5,1170) -- (409.5,1161) -- (461.4,1161) -- (461.4,1170);
\node[font=\fontsize{22}{22}\selectfont\bfseries] at (240,1150) {*};
\node[font=\fontsize{22}{22}\selectfont\bfseries] at (436,1150) {*};
\draw[line width=0.8pt,fill=white] (558,1220) rectangle (579.5,1235);
\draw[line width=0.8pt,fill=barorange] (558,1255) rectangle (579.5,1270);
\node[font=\fontsize{13.2}{14}\selectfont,anchor=west] at (590,1227) {Ctrl};
\node[font=\fontsize{13.2}{14}\selectfont,anchor=west] at (590,1264) {\textit{Trim33}\textsuperscript{Δ}};
\end{scope}
\end{tikzpicture}
\end{document}
